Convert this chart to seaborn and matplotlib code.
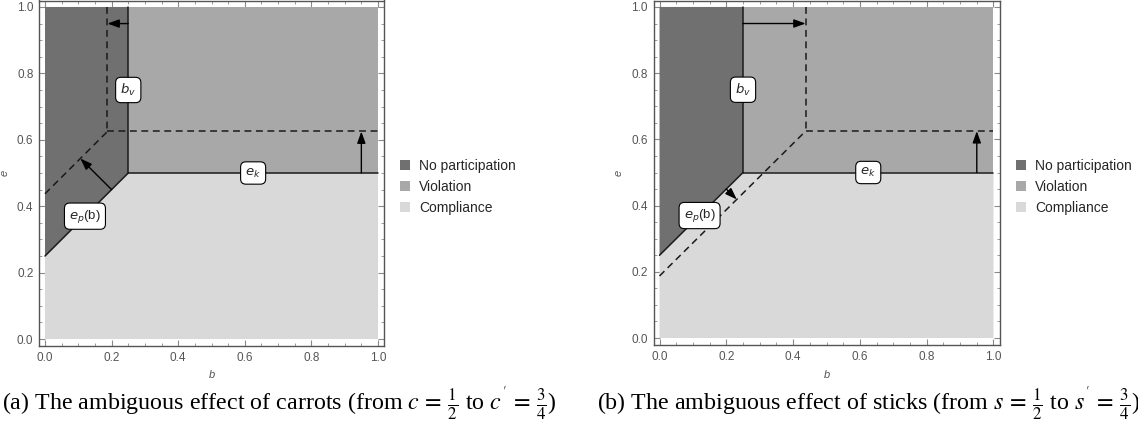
import numpy as np
import pandas as pd
import matplotlib
matplotlib.use("Agg")
import matplotlib.pyplot as plt
from matplotlib.patches import Patch
from matplotlib.ticker import MultipleLocator, FormatStrFormatter
import seaborn as sns

# ---------------- data ----------------
region_names = ["No participation", "Violation", "Compliance"]
region_colors = ["#707070", "#a8a8a8", "#d9d9d9"]

# baseline thresholds (solid)
b_v = 0.25           # vertical boundary
e_k = 0.5            # horizontal boundary
ep_intercept = 0.25  # e_p(b) = intercept + b

# shifted thresholds (dashed) for panel (a) carrots and (b) sticks
b_v_new = [0.1875, 0.4375]
e_k_new = [0.625, 0.625]
ep_intercept_new = [0.4375, 0.1875]

captions = [
    r"(a) The ambiguous effect of carrots (from $c\,=\,\frac{1}{2}$ to $c^{'}\,=\,\frac{3}{4}$)",
    r"(b) The ambiguous effect of sticks (from $s\,=\,\frac{1}{2}$ to $s^{'}\,=\,\frac{3}{4}$)",
]
tick_values = [0.0, 0.2, 0.4, 0.6, 0.8, 1.0]

# ---------------- style ----------------
sns.set_theme(style="ticks")
plt.rcParams["font.family"] = ["Liberation Sans", "DejaVu Sans"]
plt.rcParams["mathtext.fontset"] = "dejavusans"

fig = plt.figure(figsize=(11.38, 4.26), dpi=100)
W, H = 1138, 426
ax_rects = [
    [39 / W, 80 / H, 345 / W, 345.5 / H],
    [653.5 / W, 81 / H, 346 / W, 344.5 / H],
]
legend_x = [400 / W, 1016 / W]
caption_x = [279 / W, 868 / W]

line_col = "#1a1a1a"

for i in range(2):
    ax = fig.add_axes(ax_rects[i])
    # region polygons built from thresholds
    comp = np.array([[0, 0], [1, 0], [1, e_k], [b_v, e_k], [0, ep_intercept]])
    nopart = np.array([[0, ep_intercept], [b_v, b_v + ep_intercept], [b_v, 1], [0, 1]])
    viol = np.array([[b_v, e_k], [1, e_k], [1, 1], [b_v, 1]])
    for poly, col in zip([nopart, viol, comp], region_colors):
        ax.fill(poly[:, 0], poly[:, 1], color=col, lw=0, zorder=1)

    # solid boundaries via seaborn
    solid = [
        ([b_v, b_v], [1.0, e_k]),
        ([b_v, 1.0], [e_k, e_k]),
        ([0.0, b_v], [ep_intercept, ep_intercept + b_v]),
    ]
    for xs, ys in solid:
        part = pd.DataFrame({"b": xs, "e": ys})
        sns.lineplot(data=part, x="b", y="e", ax=ax, sort=False, estimator=None,
                     color=line_col, lw=1.1, zorder=3)

    bn, en, ipn = b_v_new[i], e_k_new[i], ep_intercept_new[i]
    dashed = [
        ([bn, bn], [1.0, en]),
        ([bn, 1.0], [en, en]),
        ([0.0, bn], [ipn, ipn + bn]),
    ]
    for xs, ys in dashed:
        part = pd.DataFrame({"b": xs, "e": ys})
        sns.lineplot(data=part, x="b", y="e", ax=ax, sort=False, estimator=None,
                     color=line_col, lw=1.1, zorder=3)
        ax.lines[-1].set_dashes((4.5, 3))

    # arrows
    ap = dict(arrowstyle="-|>,head_length=0.5,head_width=0.18", color="black",
              lw=1.0, mutation_scale=14, shrinkA=0, shrinkB=0)
    ax.annotate("", xy=(bn, 0.95), xytext=(b_v, 0.95), arrowprops=ap, zorder=4)
    ax.annotate("", xy=(0.95, en), xytext=(0.95, e_k), arrowprops=ap, zorder=4)
    b0 = 0.2
    e0 = ep_intercept + b0
    d = (ipn - ep_intercept) / 2.0
    ax.annotate("", xy=(b0 - d, e0 + d), xytext=(b0, e0), arrowprops=ap, zorder=4)

    # labels
    bbox = dict(boxstyle="round,pad=0.35,rounding_size=0.4", fc="white",
                ec="black", lw=0.8)
    ax.text(b_v, 0.75, r"$b_v$", ha="center", va="center", fontsize=9.5,
            bbox=bbox, zorder=5)
    ax.text(0.625, e_k, r"$e_k$", ha="center", va="center", fontsize=9.5,
            bbox=bbox, zorder=5)
    ax.text(0.12, ep_intercept + 0.12, r"$e_p$(b)", ha="center", va="center",
            fontsize=9.5, bbox=bbox, zorder=5)

    ax.set_xlim(-0.018, 1.018)
    ax.set_ylim(-0.021, 1.0195)
    ax.set_xticks(tick_values)
    ax.set_yticks(tick_values)
    ax.xaxis.set_major_formatter(FormatStrFormatter("%.1f"))
    ax.yaxis.set_major_formatter(FormatStrFormatter("%.1f"))
    ax.xaxis.set_minor_locator(MultipleLocator(0.05))
    ax.yaxis.set_minor_locator(MultipleLocator(0.05))
    ax.tick_params(which="both", direction="in", top=True, right=True,
                   color="#8a8a8a", labelcolor="#555555", labelsize=8.5, pad=4)
    ax.tick_params(which="major", length=4, width=0.8)
    ax.tick_params(which="minor", length=2, width=0.6)
    for s in ax.spines.values():
        s.set_color("#555555")
        s.set_linewidth(1.0)
        s.set_visible(True)
    ax.set_xlabel("b", fontsize=8, color="#555555", style="italic", labelpad=5)
    ax.set_ylabel("e", fontsize=8, color="#555555", style="italic")
    ax.yaxis.set_label_coords(-0.085, 0.5)

    handles = [Patch(facecolor=c, edgecolor="none") for c in region_colors]
    fig.legend(handles, region_names, loc="center left",
               bbox_to_anchor=(legend_x[i], 1 - 187 / H), frameon=False,
               fontsize=10, handlelength=0.75, handleheight=0.75,
               handletextpad=0.6, labelspacing=0.5, borderpad=0,
               borderaxespad=0)

    fig.text(caption_x[i], 22 / H, captions[i], ha="center", va="center",
             fontsize=17.3, family=["Liberation Serif", "DejaVu Serif"],
             math_fontfamily="stix", color="black")

fig.savefig("out.png", dpi=100)
